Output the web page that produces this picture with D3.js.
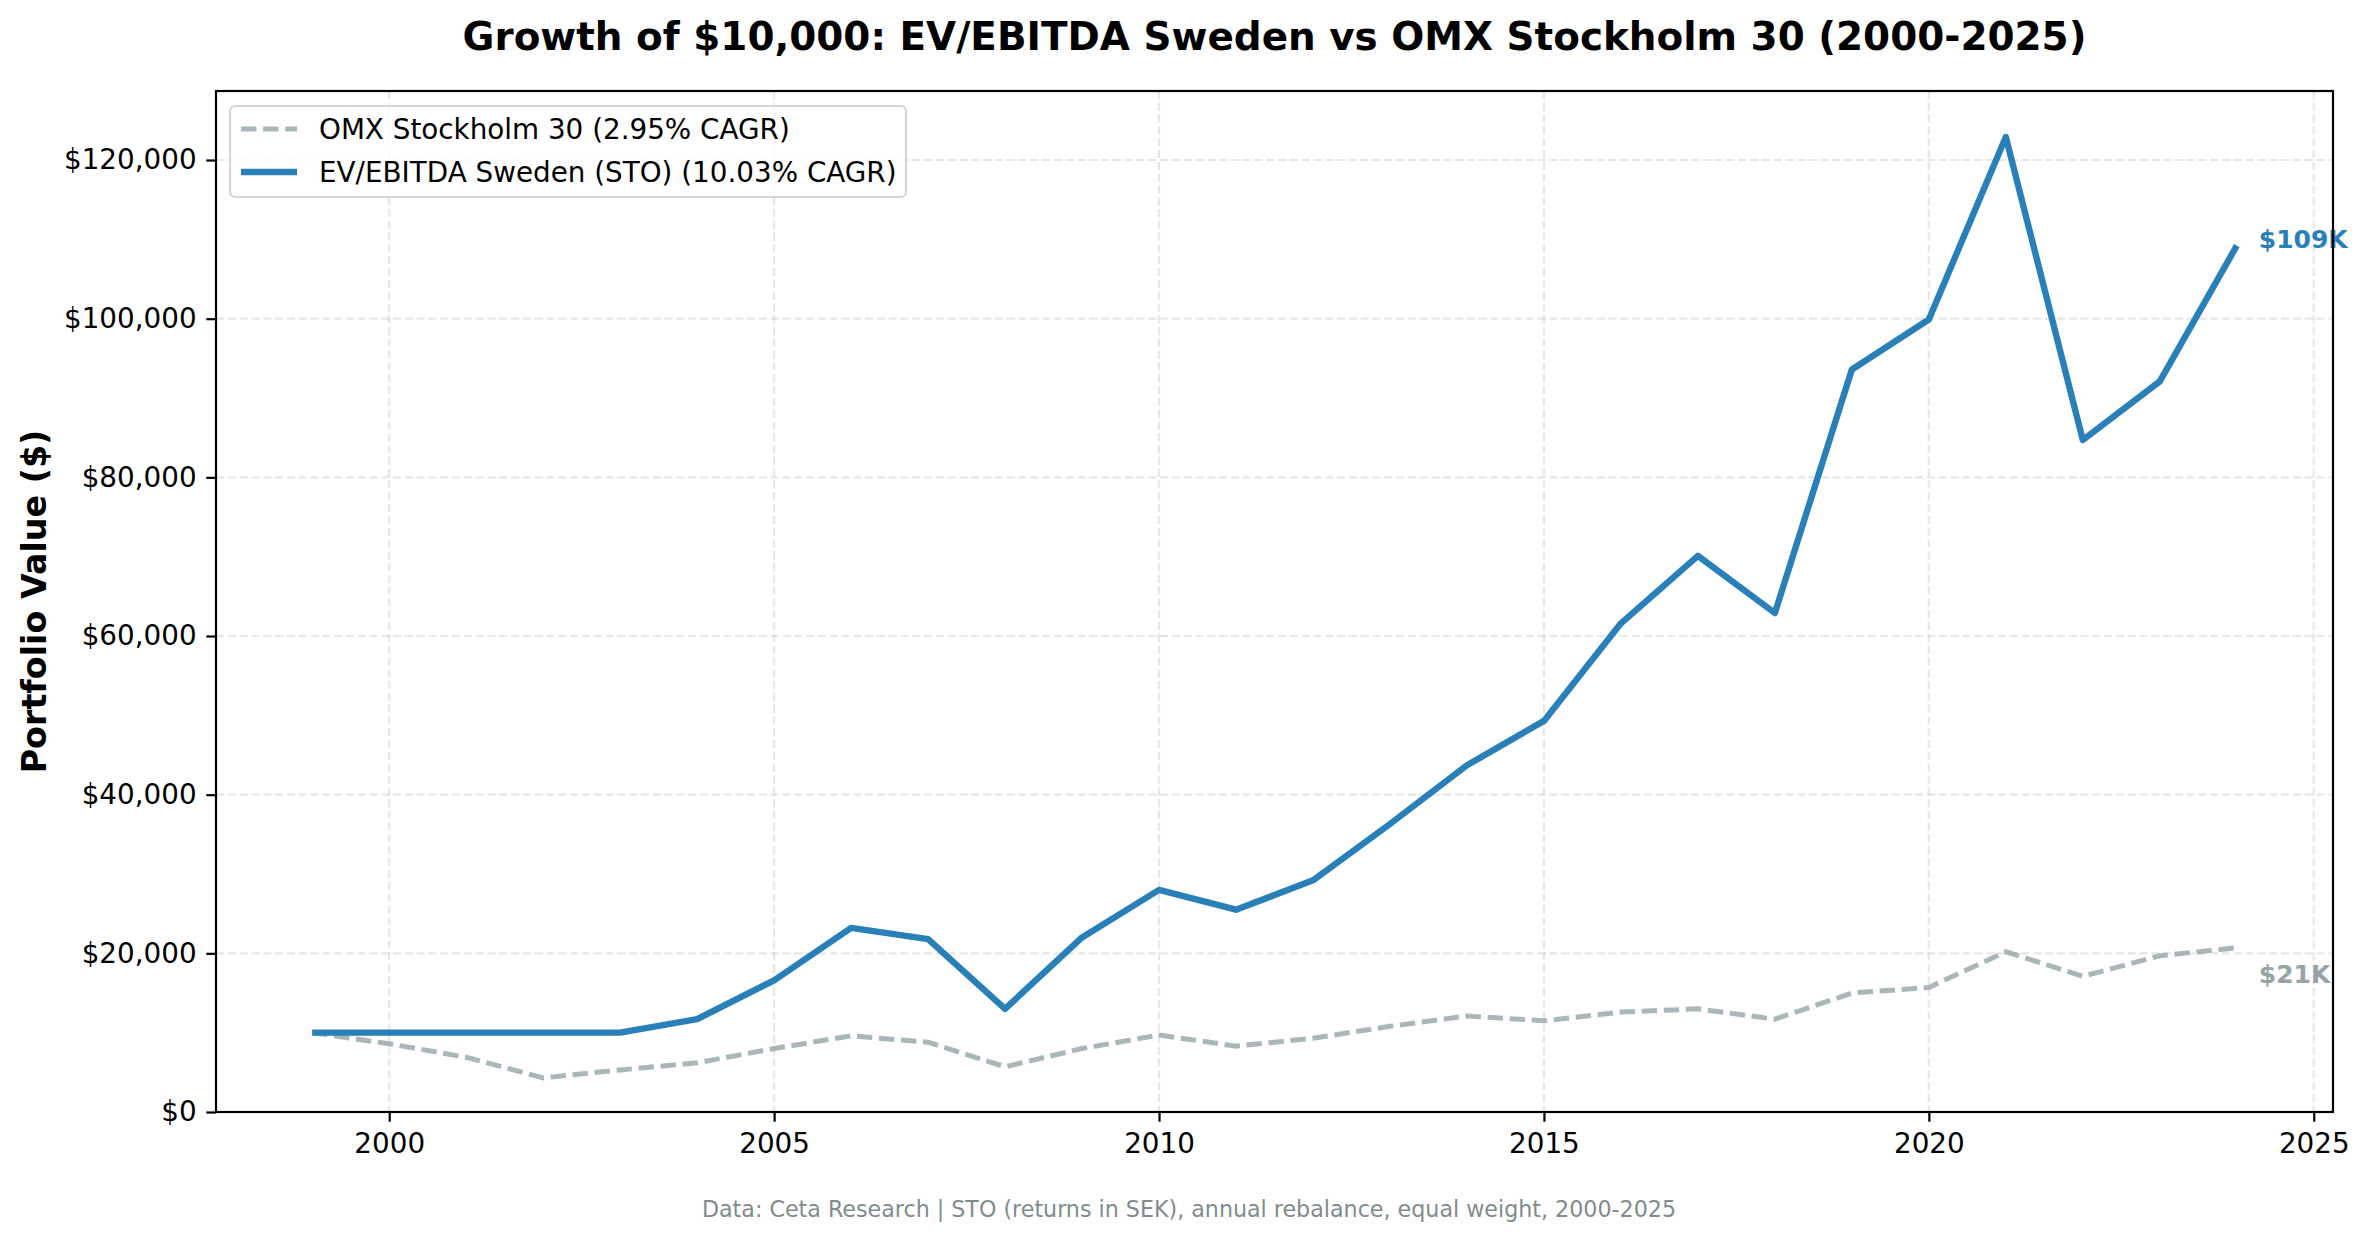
<!DOCTYPE html>
<html>
<head>
<meta charset="utf-8">
<script src="https://cdn.jsdelivr.net/npm/d3@7"></script>
<style>
  body { margin: 0; background: white; }
  text { font-family: "DejaVu Sans", sans-serif; }
</style>
</head>
<body>
<div id="container"></div>
<script>
let w = 2369;
let h = 1239;

// data
let years = [1999, 2000, 2001, 2002, 2003, 2004, 2005, 2006, 2007, 2008, 2009, 2010, 2011,
             2012, 2013, 2014, 2015, 2016, 2017, 2018, 2019, 2020, 2021, 2022, 2023, 2024];
let strategy = [10000, 10000, 10000, 10000, 10000, 11700, 16600, 23200, 21800, 13000, 22000, 28000, 25500,
                29200, 36300, 43700, 49300, 61600, 70100, 62900, 93600, 99900, 122900, 84700, 92100, 109200];
let benchmark = [10000, 8600, 6900, 4300, 5300, 6200, 8000, 9600, 8800, 5700, 8000, 9700, 8300,
                 9300, 10800, 12100, 11500, 12600, 13000, 11700, 15000, 15700, 20200, 17100, 19700, 20700];
let xTicks = [2000, 2005, 2010, 2015, 2020, 2025];
let yTicks = [0, 20000, 40000, 60000, 80000, 100000, 120000];
let seriesNames = ["OMX Stockholm 30 (2.95% CAGR)", "EV/EBITDA Sweden (STO) (10.03% CAGR)"];
let endLabels = ["$21K", "$109K"];

let blue = "#2980b9";
let grey = "#95a5a6";

let plotL = 216, plotR = 2333, plotT = 91, plotB = 1112;

let viz = d3.select("#container")
  .append("svg")
    .attr("width", w)
    .attr("height", h)
    .style("background-color", "white")
;

let x = d3.scaleLinear().domain([1997.75, 2025.25]).range([plotL, plotR]);
let y = d3.scaleLinear().domain([0, 128700]).range([plotB, plotT]);

// grid
let grid = viz.append("g");
grid.selectAll(".vgrid").data(xTicks).enter()
  .append("line")
    .attr("x1", d => x(d)).attr("x2", d => x(d))
    .attr("y1", plotT).attr("y2", plotB)
    .attr("stroke", "#b0b0b0").attr("stroke-opacity", 0.3)
    .attr("stroke-width", 2.2).attr("stroke-dasharray", "8.2,3.6");
grid.selectAll(".hgrid").data(yTicks).enter()
  .append("line")
    .attr("x1", plotL).attr("x2", plotR)
    .attr("y1", d => y(d)).attr("y2", d => y(d))
    .attr("stroke", "#b0b0b0").attr("stroke-opacity", 0.3)
    .attr("stroke-width", 2.2).attr("stroke-dasharray", "8.2,3.6");

// axes
let xAxis = d3.axisBottom(x).tickValues(xTicks).tickFormat(d3.format("d"))
  .tickSize(9.7).tickPadding(9.7);
let yAxis = d3.axisLeft(y).tickValues(yTicks).tickFormat(d3.format("$,.0f"))
  .tickSize(9.7).tickPadding(9.7);

let gx = viz.append("g").attr("transform", "translate(0," + plotB + ")").call(xAxis);
let gy = viz.append("g").attr("transform", "translate(" + plotL + ",0)").call(yAxis);
[gx, gy].forEach(g => {
  g.select(".domain").remove();
  g.selectAll(".tick line").attr("stroke", "black").attr("stroke-width", 2.2);
  g.selectAll(".tick text").attr("fill", "black").style("font-size", "27.8px")
    .style("font-family", "DejaVu Sans");
});
gx.selectAll(".tick text").attr("dy", "0.76em");

// lines
let line = d3.line().x((d, i) => x(years[i])).y(d => y(d));

viz.append("path")
  .datum(benchmark)
  .attr("d", line)
  .attr("fill", "none")
  .attr("stroke", grey).attr("stroke-opacity", 0.8)
  .attr("stroke-width", 5)
  .attr("stroke-dasharray", "15.4,6.7");

viz.append("path")
  .datum(strategy)
  .attr("d", line)
  .attr("fill", "none")
  .attr("stroke", blue)
  .attr("stroke-width", 6.4)
  .attr("stroke-linejoin", "round");

// end labels
let last = years.length - 1;
viz.append("text")
  .attr("x", x(years[last]) + 22)
  .attr("y", y(strategy[last]) - 6)
  .attr("dy", "0.35em")
  .attr("fill", blue)
  .style("font-size", "25px").style("font-weight", "bold")
  .text(endLabels[1]);
viz.append("text")
  .attr("x", x(years[last]) + 22)
  .attr("y", y(benchmark[last]) + 26)
  .attr("dy", "0.35em")
  .attr("fill", grey)
  .style("font-size", "25px").style("font-weight", "bold")
  .text(endLabels[0]);

// spines
viz.append("rect")
  .attr("x", plotL).attr("y", plotT)
  .attr("width", plotR - plotL).attr("height", plotB - plotT)
  .attr("fill", "none").attr("stroke", "black").attr("stroke-width", 2.2);

// legend
let lg = viz.append("g").attr("transform", "translate(230,106)");
lg.append("rect")
  .attr("width", 676).attr("height", 91)
  .attr("rx", 5).attr("ry", 5)
  .attr("fill", "white").attr("fill-opacity", 0.8)
  .attr("stroke", "#cccccc").attr("stroke-opacity", 0.8).attr("stroke-width", 2.2);
let legendItems = [
  {name: seriesNames[0], color: grey, dash: "15.4,6.7", width: 5, op: 0.8},
  {name: seriesNames[1], color: blue, dash: null, width: 6.4, op: 1}
];
let li = lg.selectAll(".item").data(legendItems).enter()
  .append("g")
    .attr("transform", (d, i) => "translate(0," + (23 + i * 43) + ")");
li.append("line")
  .attr("x1", 11).attr("x2", 67)
  .attr("stroke", d => d.color)
  .attr("stroke-opacity", d => d.op)
  .attr("stroke-width", d => d.width)
  .attr("stroke-dasharray", d => d.dash);
li.append("text")
  .attr("x", 89)
  .attr("dy", "0.35em")
  .style("font-size", "27.8px")
  .text(d => d.name);

// title and labels
viz.append("text")
  .attr("x", (plotL + plotR) / 2).attr("y", 50)
  .attr("text-anchor", "middle")
  .style("font-size", "38.9px").style("font-weight", "bold")
  .text("Growth of $10,000: EV/EBITDA Sweden vs OMX Stockholm 30 (2000-2025)");

viz.append("text")
  .attr("transform", "translate(46," + (plotT + plotB) / 2 + ") rotate(-90)")
  .attr("text-anchor", "middle")
  .style("font-size", "33.3px").style("font-weight", "bold")
  .text("Portfolio Value ($)");

viz.append("text")
  .attr("x", 1189).attr("y", 1217)
  .attr("text-anchor", "middle")
  .attr("fill", "#7f8c8d")
  .style("font-size", "22.2px")
  .text("Data: Ceta Research | STO (returns in SEK), annual rebalance, equal weight, 2000-2025");
</script>
</body>
</html>
